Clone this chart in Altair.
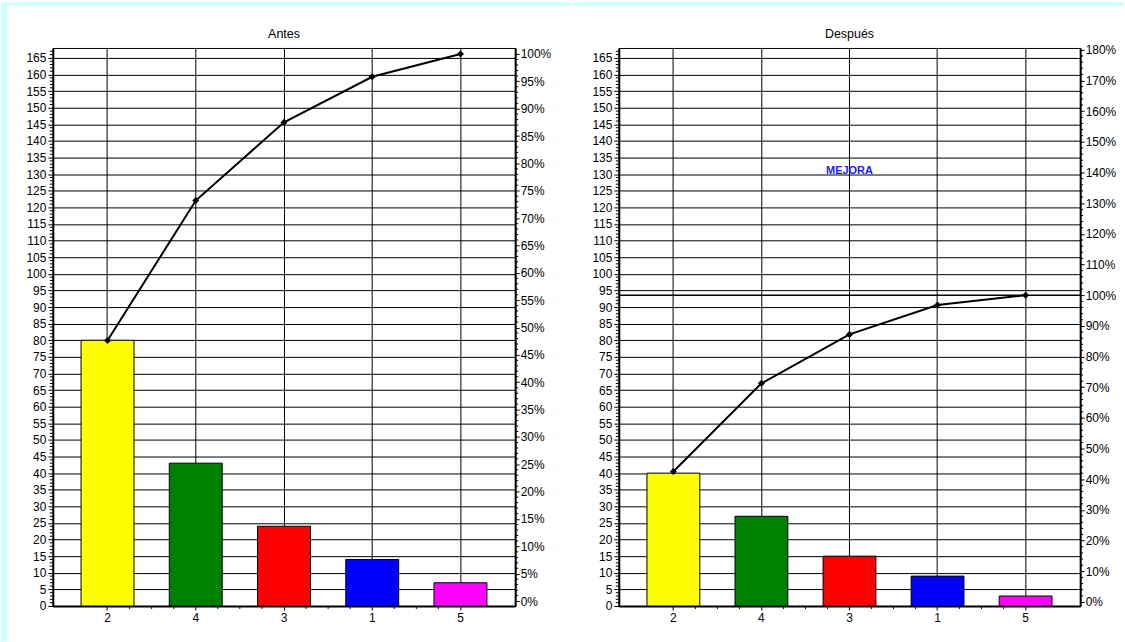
import altair as alt
import pandas as pd

# ---- data ----
categories = ["2", "4", "3", "1", "5"]
antes = [80, 43, 24, 14, 7]
despues = [40, 27, 15, 9, 3]
bar_colors = ["#ffff00", "#008000", "#ff0000", "#0000ff", "#ff00ff"]
left_ticks = list(range(0, 166, 5))
left_minor = [v for v in range(0, 168) if v % 5]
antes_pct_ticks = [i / 100 for i in range(0, 101, 5)]
antes_pct_minor = [i / 100 for i in range(0, 101) if i % 5]
despues_pct_ticks = [i / 100 for i in range(0, 181, 10)]
despues_pct_minor = [i / 100 for i in range(0, 181, 2) if i % 10]
note_text = "MEJORA"
note_cat = "3"
note_level = 131

FONT = "Liberation Sans"
LFS = 12
H = 560
CYAN = "#ccffff"


def deco(x, x2, y, y2, color):
    return alt.Chart(pd.DataFrame({"d": [0]})).mark_rect(
        color=color, strokeWidth=0
    ).encode(x=alt.value(x), x2=alt.value(x2), y=alt.value(y), y2=alt.value(y2))


def panel(title, values, width, pct_domain, pct_ticks, pct_minor, decos, note=False, limit=False):
    df = pd.DataFrame({"cat": categories, "n": values, "color": bar_colors})
    total = sum(values)
    df["cum"] = df["n"].cumsum() / total

    xscale = alt.Scale(paddingInner=0, paddingOuter=0.12)
    lscale = alt.Scale(domain=[0, 168], nice=False, zero=False)
    rscale = alt.Scale(domain=pct_domain, nice=False, zero=False)
    x_axis = alt.Axis(title=None, labelAngle=0, labelFont=FONT, labelFontSize=LFS,
                      labelColor="black", tickColor="black", tickSize=4,
                      domainColor="black", domainWidth=2, labelPadding=3,
                      grid=True, gridColor="black", gridWidth=1, gridOpacity=1)

    def X(**kw):
        return alt.X("cat:N", sort=categories, scale=xscale, axis=x_axis, **kw)

    bars = alt.Chart(df).mark_bar(
        width=alt.RelativeBandSize(0.6), stroke="black", strokeWidth=1
    ).encode(
        x=X(),
        y=alt.Y("n:Q", scale=lscale,
                axis=alt.Axis(title=None, values=left_ticks, labelFont=FONT, labelFontSize=LFS,
                              labelColor="black", tickColor="black", tickSize=5,
                              domainColor="black", domainWidth=2, labelPadding=2,
                              grid=True, gridColor="black", gridWidth=1, gridOpacity=1)),
        color=alt.Color("color:N", scale=None),
    )

    ymin = alt.Chart(pd.DataFrame({"v": left_minor})).mark_rule(
        color="black", strokeWidth=1
    ).encode(x=alt.value(-3), x2=alt.value(0), y=alt.Y("v:Q", scale=lscale, axis=None))

    xm_layers = []
    for bp, cats in [(0.75, categories[:-1]), (1.0, categories[:-1]), (0.25, categories[1:])]:
        xm_layers.append(
            alt.Chart(pd.DataFrame({"cat": cats})).mark_rule(color="black", strokeWidth=1).encode(
                x=X(bandPosition=bp),
                y=alt.value(H), y2=alt.value(H + 3),
            )
        )

    ttl = alt.Chart(pd.DataFrame({"t": [title]})).mark_text(
        font=FONT, fontSize=12.5, color="black", baseline="middle", align="center"
    ).encode(x=alt.value(width / 2), y=alt.value(-14), text="t:N")

    layers = [bars, ymin] + xm_layers
    if note:
        layers.append(
            alt.Chart(pd.DataFrame({"cat": [note_cat], "lv": [note_level], "t": [note_text]})).mark_text(
                font=FONT, fontSize=11, fontWeight="bold", color="#1a1aff"
            ).encode(
                x=X(),
                y=alt.Y("lv:Q", scale=lscale, axis=None),
                text="t:N",
            )
        )
    if limit:
        layers.append(alt.Chart(pd.DataFrame({"l": [1.0]})).mark_rule(
            color="black", strokeWidth=1.5).encode(
                x=alt.value(0), x2=alt.value(width),
                y=alt.Y("l:Q", scale=rscale, axis=None)))

    rmin = alt.Chart(pd.DataFrame({"p": pct_minor})).mark_rule(color="black", strokeWidth=1).encode(
        x=alt.value(width), x2=alt.value(width + 3),
        y=alt.Y("p:Q", scale=rscale, axis=None),
    )
    line = alt.Chart(df).mark_line(color="black", strokeWidth=2).encode(
        x=X(),
        y=alt.Y("cum:Q", scale=rscale,
                axis=alt.Axis(title=None, orient="right", values=pct_ticks, format=".0%",
                              labelFont=FONT, labelFontSize=LFS, labelColor="black",
                              tickColor="black", tickSize=4, domainColor="black",
                              domainWidth=2, labelPadding=1, grid=False)),
    )
    pts = alt.Chart(df).mark_point(shape="diamond", filled=True, color="black", size=50, opacity=1).encode(
        x=X(),
        y=alt.Y("cum:Q", scale=rscale, axis=None),
    )
    layers += [rmin, line, pts] + decos + [ttl]

    return alt.layer(*layers).resolve_scale(y="independent").properties(width=width, height=H)


W1, W2 = 464, 463
left_decos = [
    deco(-52, -46, -46, 596, CYAN),
    deco(-52, 520, -46, -42, CYAN),
]
right_decos = [
    deco(-46, 507, -46, -42, CYAN),
    deco(-46, -45, 595, 596, "white"),
]

p1 = panel("Antes", antes, W1, [-0.009, 1.011], antes_pct_ticks, antes_pct_minor, left_decos)
p2 = panel("Después", despues, W2, [-0.013, 1.806], despues_pct_ticks, despues_pct_minor,
           right_decos, note=True, limit=True)

chart = alt.hconcat(p1, p2, spacing=0).properties(padding=0, background="white").configure_view(
    stroke="black", strokeWidth=1
)

chart.save("out.html", embed_options={"renderer": "svg", "actions": False})
